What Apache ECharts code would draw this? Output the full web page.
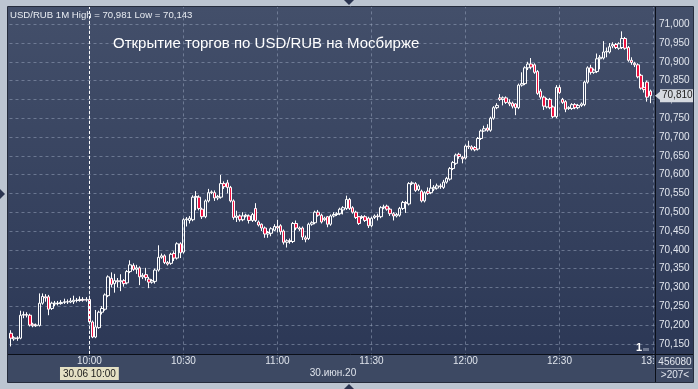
<!DOCTYPE html>
<html><head><meta charset="utf-8">
<script src="https://cdn.jsdelivr.net/npm/echarts@6/dist/echarts.min.js"></script>
<style>html,body{margin:0;padding:0;background:#bcc5d1;overflow:hidden}#c{width:698px;height:389px}</style>
</head><body><div id="c"></div>
<script>
// ---- data ----
const startMinute = 9 * 60 + 35;   // first category 09:35
const endMinute = 13 * 60;         // last category 13:00
const openP = [70.178,70.163,70.166,70.165,70.226,70.228,70.226,70.202,70.198,70.199,70.258,70.275,70.275,70.244,70.256,70.258,70.257,70.260,70.262,70.261,70.262,70.266,70.265,70.268,70.266,70.268,70.208,70.168,70.193,70.234,70.242,70.278,70.324,70.310,70.318,70.315,70.318,70.312,70.342,70.358,70.348,70.352,70.328,70.334,70.322,70.314,70.316,70.346,70.380,70.384,70.366,70.364,70.390,70.378,70.416,70.394,70.480,70.478,70.480,70.540,70.540,70.508,70.488,70.530,70.552,70.552,70.538,70.540,70.576,70.578,70.566,70.530,70.486,70.490,70.480,70.490,70.490,70.478,70.510,70.474,70.468,70.458,70.442,70.444,70.452,70.462,70.464,70.450,70.420,70.424,70.422,70.470,70.458,70.458,70.432,70.430,70.468,70.472,70.500,70.492,70.480,70.488,70.468,70.490,70.494,70.496,70.506,70.510,70.534,70.512,70.500,70.488,70.486,70.488,70.484,70.464,70.486,70.490,70.488,70.512,70.516,70.508,70.496,70.490,70.492,70.510,70.526,70.522,70.576,70.576,70.560,70.556,70.530,70.556,70.552,70.562,70.564,70.570,70.566,70.580,70.588,70.616,70.630,70.654,70.646,70.644,70.676,70.674,70.672,70.668,70.696,70.716,70.724,70.718,70.750,70.778,70.804,70.800,70.804,70.792,70.790,70.788,70.778,70.838,70.842,70.884,70.894,70.892,70.874,70.822,70.806,70.780,70.800,70.780,70.754,70.832,70.800,70.794,70.776,70.776,70.786,70.778,70.784,70.786,70.846,70.884,70.872,70.874,70.908,70.910,70.926,70.926,70.942,70.946,70.936,70.938,70.962,70.938,70.904,70.896,70.892,70.864,70.832,70.846,70.822];
const closeP = [70.165,70.166,70.164,70.226,70.228,70.226,70.200,70.198,70.200,70.258,70.276,70.272,70.242,70.258,70.258,70.257,70.260,70.262,70.261,70.264,70.266,70.265,70.268,70.266,70.268,70.208,70.168,70.195,70.234,70.244,70.280,70.328,70.308,70.318,70.315,70.318,70.310,70.342,70.360,70.348,70.352,70.328,70.332,70.326,70.314,70.318,70.346,70.380,70.384,70.366,70.362,70.388,70.378,70.416,70.392,70.480,70.482,70.484,70.540,70.542,70.510,70.488,70.530,70.552,70.554,70.538,70.542,70.576,70.568,70.566,70.530,70.486,70.490,70.480,70.490,70.492,70.478,70.494,70.478,70.466,70.458,70.442,70.446,70.456,70.462,70.458,70.448,70.420,70.424,70.422,70.470,70.458,70.455,70.434,70.428,70.468,70.472,70.500,70.492,70.474,70.484,70.468,70.490,70.494,70.496,70.508,70.512,70.534,70.510,70.500,70.486,70.470,70.488,70.478,70.464,70.484,70.490,70.488,70.512,70.514,70.508,70.496,70.490,70.494,70.510,70.526,70.524,70.576,70.578,70.558,70.570,70.530,70.552,70.550,70.564,70.566,70.570,70.568,70.580,70.590,70.616,70.632,70.652,70.648,70.642,70.676,70.674,70.668,70.666,70.696,70.716,70.722,70.718,70.750,70.778,70.784,70.800,70.804,70.792,70.788,70.782,70.778,70.838,70.842,70.884,70.894,70.886,70.872,70.816,70.806,70.782,70.800,70.778,70.754,70.832,70.818,70.792,70.774,70.778,70.786,70.778,70.784,70.788,70.846,70.884,70.872,70.878,70.908,70.912,70.926,70.928,70.940,70.946,70.938,70.948,70.962,70.936,70.904,70.898,70.892,70.860,70.830,70.826,70.806,70.810];
const lowP = [70.143,70.158,70.158,70.162,70.218,70.220,70.196,70.194,70.195,70.196,70.254,70.262,70.226,70.240,70.250,70.252,70.254,70.256,70.256,70.258,70.256,70.260,70.262,70.262,70.262,70.204,70.165,70.165,70.190,70.228,70.238,70.274,70.300,70.286,70.300,70.290,70.302,70.308,70.338,70.344,70.336,70.306,70.322,70.318,70.298,70.310,70.310,70.342,70.376,70.362,70.358,70.360,70.370,70.374,70.378,70.390,70.462,70.470,70.476,70.505,70.505,70.482,70.484,70.526,70.548,70.530,70.532,70.536,70.562,70.550,70.526,70.480,70.474,70.475,70.476,70.486,70.470,70.474,70.474,70.462,70.450,70.432,70.432,70.436,70.450,70.446,70.440,70.414,70.406,70.416,70.418,70.452,70.450,70.426,70.420,70.426,70.464,70.468,70.488,70.470,70.476,70.460,70.464,70.486,70.490,70.492,70.494,70.506,70.506,70.496,70.482,70.466,70.482,70.474,70.458,70.460,70.482,70.478,70.484,70.508,70.504,70.490,70.478,70.486,70.488,70.506,70.498,70.518,70.572,70.554,70.556,70.526,70.526,70.546,70.548,70.556,70.560,70.562,70.562,70.576,70.584,70.612,70.626,70.642,70.630,70.640,70.668,70.664,70.662,70.664,70.692,70.714,70.714,70.714,70.746,70.774,70.796,70.784,70.788,70.782,70.776,70.758,70.774,70.834,70.838,70.878,70.880,70.868,70.812,70.800,70.772,70.776,70.774,70.750,70.750,70.814,70.788,70.766,70.772,70.772,70.774,70.774,70.780,70.782,70.842,70.866,70.868,70.870,70.880,70.906,70.912,70.922,70.936,70.934,70.932,70.934,70.932,70.900,70.892,70.886,70.856,70.826,70.818,70.794,70.790];
const highP = [70.186,70.170,70.170,70.238,70.236,70.234,70.230,70.206,70.204,70.284,70.284,70.282,70.280,70.262,70.264,70.264,70.266,70.270,70.268,70.272,70.278,70.272,70.276,70.274,70.274,70.272,70.212,70.240,70.238,70.250,70.284,70.332,70.340,70.336,70.325,70.335,70.322,70.346,70.372,70.364,70.360,70.356,70.338,70.352,70.328,70.322,70.350,70.412,70.390,70.388,70.370,70.392,70.396,70.420,70.420,70.484,70.487,70.490,70.545,70.556,70.545,70.512,70.534,70.562,70.558,70.558,70.546,70.599,70.582,70.586,70.570,70.534,70.504,70.494,70.500,70.496,70.494,70.498,70.524,70.478,70.470,70.462,70.450,70.460,70.468,70.480,70.468,70.454,70.428,70.430,70.474,70.478,70.462,70.462,70.438,70.472,70.476,70.504,70.506,70.496,70.488,70.490,70.494,70.500,70.500,70.512,70.516,70.544,70.538,70.516,70.504,70.490,70.492,70.492,70.488,70.488,70.494,70.496,70.516,70.520,70.520,70.512,70.500,70.498,70.514,70.530,70.530,70.580,70.582,70.580,70.574,70.560,70.556,70.566,70.588,70.572,70.576,70.576,70.586,70.594,70.620,70.636,70.656,70.658,70.650,70.680,70.690,70.678,70.676,70.700,70.720,70.730,70.734,70.754,70.782,70.790,70.814,70.808,70.808,70.800,70.794,70.790,70.842,70.872,70.888,70.900,70.910,70.896,70.878,70.828,70.810,70.804,70.804,70.784,70.838,70.838,70.804,70.798,70.782,70.790,70.790,70.788,70.792,70.850,70.888,70.892,70.882,70.922,70.918,70.955,70.938,70.950,70.952,70.950,70.952,70.981,70.966,70.942,70.912,70.900,70.896,70.868,70.846,70.850,70.826];
const yMin = 70.10, yMax = 71.05, yStep = 0.05;
const cursorTime = '10:00';
const cursorLabel = '30.06 10:00';
const dateLabel = '30.июн.20';
const headerText = 'USD/RUB 1M High = 70,981 Low = 70,143';
const titleText = 'Открытие торгов по USD/RUB на Мосбирже';
const volumeText = '456080';
const barsText = '>207<';

// ---- build ----
const times = [];
for (let m = startMinute; m <= endMinute; m++) {
  const h = Math.floor(m / 60), mm = m % 60;
  times.push(String(h).padStart(2, '0') + ':' + String(mm).padStart(2, '0'));
}
const ohlc = openP.map((o, i) => [o, closeP[i], lowP[i], highP[i]]);
const lastClose = closeP[closeP.length - 1];
const fmt = v => v.toFixed(3).replace('.', ',');
const FONT = "'Liberation Sans',Arial,sans-serif";
const gridDash = { color: 'rgba(150,162,186,0.55)', type: [3, 3], width: 1 };

const chart = echarts.init(document.getElementById('c'), null, { renderer: 'canvas' });
const graphics = [
  { type: 'rect', z: -10, shape: { x: 8, y: 7, width: 685, height: 347 },
    style: { fill: new echarts.graphic.LinearGradient(0, 0, 0, 1, [{ offset: 0, color: '#434f6a' }, { offset: 1, color: '#2c3856' }]) } },
  { type: 'rect', z: -10, shape: { x: 8, y: 354, width: 685, height: 28 }, style: { fill: '#3d4963' } },
  { type: 'rect', z: 50, shape: { x: 656, y: 355, width: 37, height: 27 }, style: { fill: '#3d4963' } },
  { type: 'line', z: 51, shape: { x1: 8, y1: 354.5, x2: 693, y2: 354.5 }, style: { stroke: '#0b0f18', lineWidth: 1 } },
  { type: 'line', z: 51, shape: { x1: 655.5, y1: 7, x2: 655.5, y2: 382 }, style: { stroke: '#0b0f18', lineWidth: 1 } },
  { type: 'line', z: 51, shape: { x1: 657, y1: 368.5, x2: 692, y2: 368.5 }, style: { stroke: '#8d97aa', lineWidth: 1 } },
  { type: 'rect', z: 51, shape: { x: 7.5, y: 6.5, width: 686, height: 376 }, style: { fill: 'none', stroke: '#252c3c', lineWidth: 1 } },
  { type: 'text', z: 52, x: 10, y: 10, style: { text: headerText, fill: '#e8ecf2', fontSize: 9.6, fontFamily: FONT } },
  { type: 'text', z: 52, x: 333, y: 368, style: { text: dateLabel, fill: '#dfe4ec', fontSize: 10, fontFamily: FONT, textAlign: 'center' } },
  { type: 'text', z: 52, x: 675, y: 357, style: { text: volumeText, fill: '#e2e6ee', fontSize: 10, fontFamily: FONT, textAlign: 'center' } },
  { type: 'text', z: 52, x: 675, y: 370, style: { text: barsText, fill: '#e2e6ee', fontSize: 10, fontFamily: FONT, textAlign: 'center' } },
  { type: 'text', z: 52, x: 636, y: 342, style: { text: '1', fill: '#ffffff', fontSize: 11, fontWeight: 'bold', fontFamily: FONT } },
  { type: 'rect', z: 52, shape: { x: 643, y: 348, width: 6, height: 3 }, style: { fill: '#6e7890' } },
  { type: 'polygon', z: 52, shape: { points: [[344, 0], [354, 0], [349, 5]] }, style: { fill: '#2a3450' } },
  { type: 'polygon', z: 52, shape: { points: [[344, 389], [354, 389], [349, 384]] }, style: { fill: '#2a3450' } },
  { type: 'polygon', z: 52, shape: { points: [[0, 189], [0, 199], [5, 194]] }, style: { fill: '#2a3450' } }
];
chart.setOption({
  animation: false,
  backgroundColor: '#bcc5d1',
  title: {
    text: titleText, left: 108, top: 31,
    textStyle: { color: '#ffffff', fontSize: 15, fontWeight: 'normal', fontFamily: FONT }
  },
  grid: { left: 9.5, right: 43, top: 5.4, bottom: 26.4, containLabel: false },
  xAxis: {
    type: 'category', data: times, boundaryGap: true,
    axisLine: { show: false }, axisTick: { show: false },
    axisLabel: {
      color: '#dfe4ec', fontSize: 10, fontFamily: FONT, margin: -6,
      interval: (i, v) => v.endsWith(':00') || v.endsWith(':30')
    },
    splitLine: { show: true, alignWithLabel: true, interval: (i, v) => v.endsWith(':00') || v.endsWith(':30'), lineStyle: gridDash }
  },
  yAxis: {
    type: 'value', position: 'right', min: yMin, max: yMax, interval: yStep, scale: true,
    axisLine: { show: false }, axisTick: { show: false },
    axisLabel: { color: '#e2e6ee', fontSize: 10, fontFamily: FONT, margin: 4, showMinLabel: false, showMaxLabel: false, formatter: fmt },
    splitLine: { show: true, showMinLine: false, showMaxLine: false, lineStyle: gridDash }
  },
  series: [{
    type: 'candlestick', data: ohlc, barWidth: 3,
    itemStyle: {
      color: 'rgba(0,0,0,0)', color0: '#ee1240',
      borderColor: '#ffffff', borderColor0: '#ffffff', borderColorDoji: '#ffffff', borderWidth: 1
    },
    markLine: {
      silent: true, symbol: ['none', 'none'], animation: false,
      data: [
        [
          { coord: [cursorTime, 70.123], lineStyle: { color: '#ffffff', type: [3, 2], width: 1 },
            label: { show: true, position: 'start', distance: 13, formatter: cursorLabel, backgroundColor: '#e4e0c4', color: '#1a1a1a', padding: [2, 3, 1, 3], fontSize: 10, fontFamily: FONT } },
          { coord: [cursorTime, yMax] }
        ],
        { yAxis: lastClose, lineStyle: { color: 'rgba(0,0,0,0)', width: 0 },
          label: { show: true, position: 'end', distance: 5, formatter: fmt(lastClose), backgroundColor: '#d6dae0', color: '#1a1a1a', padding: [2, 2, 1, 2], fontSize: 10, fontFamily: FONT } }
      ]
    }
  }],
  graphic: graphics
});
// small pointer next to the last-price label, placed through the y scale
const py = chart.convertToPixel({ yAxisIndex: 0 }, lastClose);
graphics.push({ type: 'polygon', z: 53, shape: { points: [[655, py], [661, py - 5], [661, py + 5]] }, style: { fill: '#d6dae0' } });
chart.setOption({ graphic: graphics });
</script></body></html>
